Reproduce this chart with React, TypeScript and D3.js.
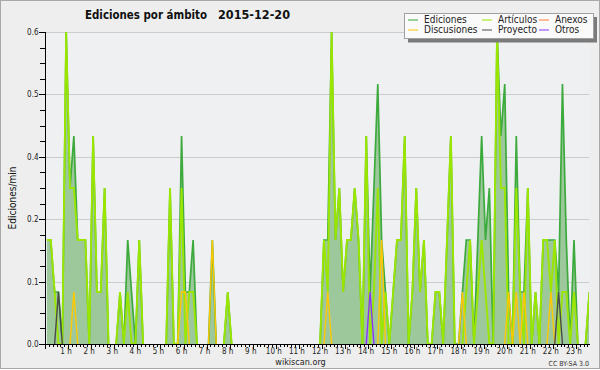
import React from 'react';
import * as d3 from 'd3';

const chartTitle = 'Ediciones por ámbito';
const chartDate = '2015-12-20';
const yAxisLabel = 'Ediciones/min';
const hourLabels = [
  '1 h', '2 h', '3 h', '4 h', '5 h', '6 h', '7 h', '8 h', '9 h', '10 h', '11 h', '12 h',
  '13 h', '14 h', '15 h', '16 h', '17 h', '18 h', '19 h', '20 h', '21 h', '22 h', '23 h',
];
const yTicks = [0, 0.12, 0.24, 0.36, 0.48, 0.6];

// edits/min, one value per 10 minute slot (144 slots), one row = 2 hours
const ediciones = [
  0.2, 0.2, 0.1, 0.1, 0, 0.6, 0.3, 0.4, 0.2, 0.2, 0.2, 0,
  0.4, 0.1, 0.1, 0.3, 0, 0, 0, 0.1, 0, 0.2, 0.1, 0,
  0.2, 0, 0, 0, 0, 0, 0, 0, 0.3, 0, 0, 0.4,
  0.1, 0.1, 0.2, 0, 0, 0, 0, 0.2, 0, 0, 0, 0.1,
  0, 0, 0, 0, 0, 0, 0, 0, 0, 0, 0, 0,
  0, 0, 0, 0, 0, 0, 0, 0, 0, 0, 0, 0,
  0.2, 0.2, 0.6, 0.2, 0.3, 0.1, 0.2, 0.2, 0.3, 0.2, 0, 0.4,
  0.1, 0.3, 0.5, 0.2, 0.1, 0, 0.1, 0.2, 0.2, 0.4, 0, 0.1,
  0.3, 0.1, 0.2, 0, 0, 0.1, 0.1, 0, 0.2, 0.4, 0, 0,
  0.1, 0.2, 0.2, 0, 0.2, 0.4, 0.2, 0.3, 0, 0.6, 0.4, 0.5,
  0.1, 0, 0.4, 0.1, 0.1, 0.3, 0, 0.1, 0, 0.2, 0.2, 0.2,
  0.2, 0.1, 0.5, 0.2, 0, 0.2, 0, 0, 0, 0.1, 0, 0,
];

const articulos = [
  0.2, 0.2, 0.1, 0, 0, 0.6, 0.3, 0.3, 0.2, 0.2, 0.2, 0,
  0.4, 0.1, 0.1, 0.3, 0, 0, 0, 0.1, 0, 0.1, 0, 0,
  0.2, 0, 0, 0, 0, 0, 0, 0, 0.3, 0, 0, 0.3,
  0, 0.1, 0.1, 0, 0, 0, 0, 0, 0, 0, 0, 0.1,
  0, 0, 0, 0, 0, 0, 0, 0, 0, 0, 0, 0,
  0, 0, 0, 0, 0, 0, 0, 0, 0, 0, 0, 0,
  0.2, 0.1, 0.6, 0.2, 0.3, 0.1, 0.2, 0.2, 0.3, 0.2, 0, 0.4,
  0, 0.1, 0.3, 0, 0.1, 0, 0.1, 0.2, 0.2, 0.4, 0, 0.1,
  0.3, 0.1, 0.2, 0, 0, 0.1, 0.1, 0, 0.2, 0.4, 0, 0,
  0, 0.1, 0.2, 0, 0.1, 0.2, 0.1, 0, 0, 0.6, 0.3, 0.3,
  0, 0, 0.3, 0.1, 0, 0.3, 0, 0.1, 0, 0.2, 0.2, 0.1,
  0.2, 0, 0.1, 0.1, 0, 0.1, 0, 0, 0, 0.1, 0, 0,
];

// sparse series: [slot, edits/min]
const discusiones: [number, number][] = [
  [7, 0.1], [35, 0.1], [36, 0.1], [43, 0.2], [73, 0.1], [87, 0.2],
  [108, 0.1], [120, 0.1], [122, 0.1], [124, 0.1], [131, 0.1],
];
const proyecto: [number, number][] = [[3, 0.1], [133, 0.1]];
const otros: [number, number][] = [[84, 0.1]];
const anexos: [number, number][] = [];

const FONT = "'DejaVu Sans Condensed', 'DejaVu Sans', sans-serif";
const SLOTS = 144;

const expand = (pairs: [number, number][]) => {
  const s = new Array(SLOTS).fill(0);
  pairs.forEach(([i, v]) => { s[i] = v; });
  return s;
};

const series = [
  { name: 'Ediciones', color: '#3caa3c', values: ediciones, width: 1.7 },
  { name: 'Artículos', color: '#9ae600', values: articulos, width: 1.9 },
  { name: 'Anexos', color: '#ff7a33', values: expand(anexos), width: 1.4 },
  { name: 'Discusiones', color: '#ffc800', values: expand(discusiones), width: 1.4 },
  { name: 'Proyecto', color: '#4a4a4a', values: expand(proyecto), width: 1.4 },
  { name: 'Otros', color: '#8a33ff', values: expand(otros), width: 1.4 },
];

const legendColX = [408, 482, 539];
const legendRowY = [19.5, 29.5];

export default function App() {
  const left = 45;
  const right = 589;
  const top = 32;
  const bottom = 344;

  const x = d3.scaleLinear().domain([0, 24]).range([left, 599]);
  const y = d3.scaleLinear().domain([0, 0.6]).range([bottom, top]);
  const slotX = (i: number) => x((i + 0.5) / 6);

  // hide the flat runs at zero so they do not paint over the axis
  const near = (s: number[]) => (_: number, i: number) =>
    s[i] > 0 || (s[i - 1] ?? 0) > 0 || (s[i + 1] ?? 0) > 0;

  const lineFor = (s: number[]) =>
    d3.line<number>()
      .defined(near(s))
      .x((_, i) => slotX(i))
      .y(d => y(d))(s) ?? '';

  const fill = d3.area<number>()
    .x((_, i) => slotX(i))
    .y0(y(0))
    .y1(d => y(d))(ediciones) ?? '';

  const minorX = d3.range(0, SLOTS).map(i => i / 6).filter(h => x(h) <= right + 0.5);
  const minorY = d3.range(0, 21).map(i => i * 0.03);
  const fmt = d3.format('.1f');

  return (
    <svg width={600} height={370} style={{ position: 'absolute', left: 0, top: 0 }}>
      <defs>
        <clipPath id="plot">
          <rect x={left} y={top - 3} width={right - left} height={bottom - top + 3} />
        </clipPath>
      </defs>
      <rect x={0.5} y={0.5} width={599} height={368} fill="#eeeeee" stroke="#a8a8a8" />
      <rect x={left} y={top} width={right - left} height={bottom - top} fill="#eff0f2" />

      {yTicks.slice(1).map(t => (
        <line key={t} x1={left} x2={right} y1={Math.round(y(t)) + 0.5} y2={Math.round(y(t)) + 0.5}
          stroke="#cccccc" />
      ))}

      <g clipPath="url(#plot)">
        <path d={fill} fill="#9cc89c" />
        {series.map(s => (
          <path key={s.name} d={lineFor(s.values)} fill="none" stroke={s.color}
            strokeWidth={s.width} strokeLinejoin="miter" />
        ))}
      </g>

      {/* y axis */}
      <line x1={left + 0.5} x2={left + 0.5} y1={top} y2={bottom + 0.5} stroke="#000" />
      {minorY.map((t, i) => (
        <line key={i} x1={left - (i % 4 === 0 ? 6 : 5)} x2={left}
          y1={Math.round(y(t)) + 0.5} y2={Math.round(y(t)) + 0.5} stroke="#000" />
      ))}
      {yTicks.map(t => (
        <text key={t} x={38.5} y={y(t) + 3} textAnchor="end" fontFamily={FONT} fontSize={8}
          fill="#222">{fmt(t)}</text>
      ))}

      {/* x axis */}
      <line x1={left} x2={right + 1} y1={bottom + 0.5} y2={bottom + 0.5} stroke="#000" />
      {minorX.map((h, i) => (
        <line key={i} x1={Math.round(x(h)) + 0.5} x2={Math.round(x(h)) + 0.5}
          y1={bottom} y2={bottom + (i % 6 === 0 ? 5 : 3)} stroke="#000" />
      ))}
      {hourLabels.map((lab, i) => (
        <text key={lab} x={x(i + 1) - 2} y={354} textAnchor="middle" fontFamily={FONT}
          fontSize={8} fill="#222">{lab}</text>
      ))}

      <text x={85} y={18.5} fontFamily={FONT} fontWeight="bold" fontSize={12} fill="#111"
        textLength={122} lengthAdjust="spacingAndGlyphs">
        {chartTitle}
      </text>
      <text x={218} y={18.5} fontFamily={FONT} fontWeight="bold" fontSize={12} fill="#111"
        textLength={72} lengthAdjust="spacingAndGlyphs">
        {chartDate}
      </text>
      <text transform="translate(15.5,198) rotate(-90)" textAnchor="middle" fontFamily={FONT}
        fontSize={10} fill="#111">{yAxisLabel}</text>
      <text x={300.5} y={365} textAnchor="middle" fontFamily={FONT} fontSize={9} fill="#222">
        wikiscan.org
      </text>
      <text x={589} y={366} textAnchor="end" fontFamily={FONT} fontSize={7} fill="#333">
        CC BY-SA 3.0
      </text>

      {/* legend */}
      <rect x={408} y={17} width={189} height={25.5} fill="#7a7a7a" />
      <rect x={404.5} y={13.5} width={189} height={25} fill="#fafafa" stroke="#a0a0a0" />
      {series.map((s, i) => {
        const cx = legendColX[i % 3];
        const cy = legendRowY[Math.floor(i / 3)];
        return (
          <g key={s.name}>
            <line x1={cx} x2={cx + 10} y1={cy + 0.5} y2={cy + 0.5} stroke={s.color} />
            <text x={cx + 16} y={cy + 3.5} fontFamily={FONT} fontSize={10} fill="#222">{s.name}</text>
          </g>
        );
      })}
    </svg>
  );
}
